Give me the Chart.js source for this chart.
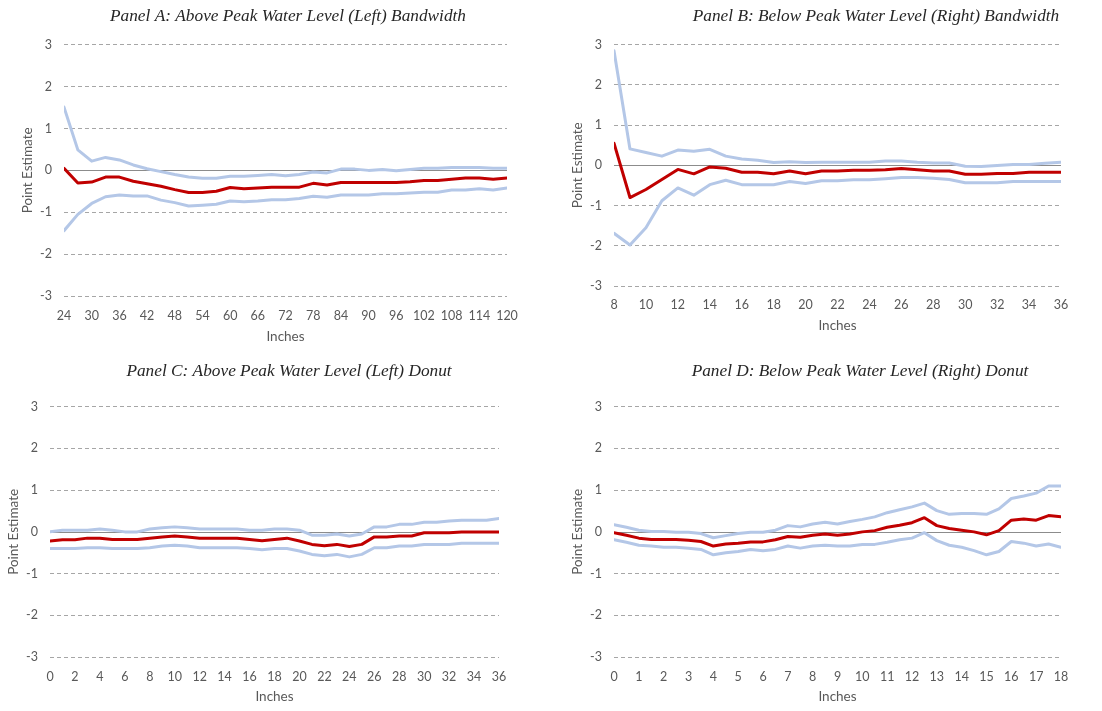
<!DOCTYPE html>
<html>
<head>
<meta charset="utf-8">
<script src="https://cdn.jsdelivr.net/npm/chart.js@4.4.1/dist/chart.umd.min.js"></script>
<style>
  html, body { margin: 0; padding: 0; background: #ffffff; width: 1102px; height: 711px; overflow: hidden; }
  .panel { position: absolute; }
</style>
</head>
<body>
<div class="panel" style="left:0px;top:0px;width:556px;height:355px"><canvas id="chartA"></canvas></div>
<div class="panel" style="left:551px;top:0px;width:631px;height:355px"><canvas id="chartB"></canvas></div>
<div class="panel" style="left:0px;top:355px;width:572px;height:356px"><canvas id="chartC"></canvas></div>
<div class="panel" style="left:551px;top:355px;width:599px;height:356px"><canvas id="chartD"></canvas></div>
<script>
// Panel A: above peak water level (left), bandwidth
const inchesA = [24, 27, 30, 33, 36, 39, 42, 45, 48, 51, 54, 57, 60, 63, 66, 69, 72, 75, 78, 81, 84, 87, 90, 93, 96, 99, 102, 105, 108, 111, 114, 117, 120];
const estimateA = [0.05, -0.30, -0.28, -0.16, -0.16, -0.26, -0.32, -0.38, -0.46, -0.53, -0.53, -0.50, -0.41, -0.44, -0.42, -0.40, -0.40, -0.40, -0.31, -0.35, -0.29, -0.29, -0.29, -0.29, -0.29, -0.27, -0.24, -0.24, -0.21, -0.18, -0.18, -0.21, -0.18];
const upperA = [1.51, 0.49, 0.22, 0.31, 0.25, 0.13, 0.04, -0.03, -0.10, -0.16, -0.19, -0.19, -0.14, -0.14, -0.12, -0.10, -0.13, -0.10, -0.04, -0.06, 0.03, 0.03, 0.00, 0.02, -0.01, 0.02, 0.05, 0.05, 0.07, 0.07, 0.07, 0.05, 0.05];
const lowerA = [-1.44, -1.05, -0.79, -0.63, -0.59, -0.61, -0.61, -0.71, -0.77, -0.85, -0.83, -0.81, -0.73, -0.75, -0.73, -0.70, -0.70, -0.67, -0.62, -0.64, -0.59, -0.59, -0.59, -0.56, -0.56, -0.54, -0.52, -0.52, -0.47, -0.47, -0.44, -0.47, -0.42];

// Panel B: below peak water level (right), bandwidth
const inchesB = [8, 9, 10, 11, 12, 13, 14, 15, 16, 17, 18, 19, 20, 21, 22, 23, 24, 25, 26, 27, 28, 29, 30, 31, 32, 33, 34, 35, 36];
const estimateB = [0.55, -0.80, -0.60, -0.35, -0.10, -0.21, -0.04, -0.07, -0.17, -0.17, -0.21, -0.14, -0.21, -0.14, -0.14, -0.12, -0.12, -0.11, -0.08, -0.11, -0.14, -0.14, -0.22, -0.22, -0.20, -0.20, -0.17, -0.17, -0.17];
const upperB = [2.85, 0.41, 0.32, 0.23, 0.38, 0.35, 0.40, 0.23, 0.16, 0.13, 0.07, 0.09, 0.07, 0.08, 0.08, 0.08, 0.08, 0.11, 0.11, 0.08, 0.06, 0.06, -0.02, -0.03, 0.00, 0.02, 0.02, 0.05, 0.08];
const lowerB = [-1.69, -1.98, -1.55, -0.88, -0.56, -0.74, -0.48, -0.37, -0.48, -0.48, -0.48, -0.40, -0.45, -0.38, -0.38, -0.36, -0.36, -0.33, -0.30, -0.30, -0.32, -0.35, -0.43, -0.43, -0.43, -0.40, -0.40, -0.40, -0.40];

// Panel C: above peak water level (left), donut
const inchesC = [0, 1, 2, 3, 4, 5, 6, 7, 8, 9, 10, 11, 12, 13, 14, 15, 16, 17, 18, 19, 20, 21, 22, 23, 24, 25, 26, 27, 28, 29, 30, 31, 32, 33, 34, 35, 36];
const estimateC = [-0.22, -0.19, -0.19, -0.15, -0.15, -0.18, -0.18, -0.18, -0.15, -0.12, -0.10, -0.12, -0.15, -0.15, -0.15, -0.15, -0.18, -0.21, -0.18, -0.15, -0.22, -0.30, -0.33, -0.30, -0.35, -0.30, -0.12, -0.12, -0.10, -0.10, -0.02, -0.02, -0.02, 0.00, 0.00, 0.00, 0.00];
const upperC = [0.00, 0.04, 0.04, 0.04, 0.07, 0.04, 0.00, 0.00, 0.07, 0.10, 0.12, 0.10, 0.07, 0.07, 0.07, 0.07, 0.04, 0.04, 0.07, 0.07, 0.04, -0.08, -0.08, -0.05, -0.10, -0.05, 0.12, 0.12, 0.18, 0.18, 0.23, 0.23, 0.26, 0.28, 0.28, 0.28, 0.32];
const lowerC = [-0.40, -0.40, -0.40, -0.38, -0.38, -0.40, -0.40, -0.40, -0.38, -0.34, -0.32, -0.34, -0.38, -0.38, -0.38, -0.38, -0.40, -0.43, -0.40, -0.40, -0.46, -0.54, -0.57, -0.54, -0.60, -0.54, -0.38, -0.38, -0.34, -0.34, -0.30, -0.30, -0.30, -0.27, -0.27, -0.27, -0.27];

// Panel D: below peak water level (right), donut
const inchesD = [0, 0.5, 1, 1.5, 2, 2.5, 3, 3.5, 4, 4.5, 5, 5.5, 6, 6.5, 7, 7.5, 8, 8.5, 9, 9.5, 10, 10.5, 11, 11.5, 12, 12.5, 13, 13.5, 14, 14.5, 15, 15.5, 16, 16.5, 17, 17.5, 18];
const estimateD = [-0.02, -0.08, -0.15, -0.18, -0.18, -0.18, -0.20, -0.23, -0.34, -0.29, -0.27, -0.24, -0.24, -0.19, -0.11, -0.13, -0.08, -0.05, -0.08, -0.05, 0.00, 0.03, 0.11, 0.16, 0.22, 0.34, 0.15, 0.08, 0.04, 0.00, -0.07, 0.03, 0.28, 0.31, 0.28, 0.39, 0.36];
const upperD = [0.17, 0.11, 0.04, 0.01, 0.01, -0.01, -0.01, -0.04, -0.14, -0.09, -0.04, -0.01, -0.01, 0.04, 0.15, 0.12, 0.19, 0.23, 0.19, 0.25, 0.30, 0.36, 0.46, 0.53, 0.60, 0.69, 0.51, 0.42, 0.44, 0.44, 0.42, 0.55, 0.80, 0.86, 0.93, 1.10, 1.10];
const lowerD = [-0.19, -0.25, -0.32, -0.34, -0.37, -0.37, -0.39, -0.42, -0.55, -0.50, -0.47, -0.42, -0.45, -0.42, -0.34, -0.39, -0.34, -0.32, -0.34, -0.34, -0.30, -0.30, -0.25, -0.19, -0.15, -0.02, -0.21, -0.32, -0.37, -0.45, -0.55, -0.47, -0.23, -0.27, -0.34, -0.29, -0.37];

const yTicks = [-3, -2, -1, 0, 1, 2, 3];

const RED = '#C00000';
const BLUE = '#B4C7E7';
const TICK_COLOR = '#595959';
const GRID_COLOR = '#A6A6A6';
const ZERO_COLOR = '#8C8C8C';
const SANS = 'Lato, "Liberation Sans", sans-serif';

// Solid reference line at zero, drawn beneath the series
const zeroLine = {
  id: 'zeroLine',
  beforeDatasetsDraw(chart) {
    const { ctx, chartArea } = chart;
    const y = Math.round(chart.scales.y.getPixelForValue(0)) + 0.5;
    ctx.save();
    ctx.strokeStyle = ZERO_COLOR;
    ctx.lineWidth = 1;
    ctx.beginPath();
    ctx.moveTo(chartArea.left, y);
    ctx.lineTo(chartArea.right, y);
    ctx.stroke();
    ctx.restore();
  }
};

function pairs(xs, ys) {
  return xs.map((x, i) => ({ x: x, y: ys[i] }));
}

function makePanel(id, p) {
  const series = (data, color) => ({
    data: pairs(p.inches, data),
    borderColor: color,
    borderWidth: 3,
    pointRadius: 0,
    tension: 0,
    borderJoinStyle: 'round',
    borderCapStyle: 'round',
    fill: false
  });
  return new Chart(document.getElementById(id), {
    type: 'line',
    data: {
      datasets: [
        series(p.estimate, RED),
        series(p.upper, BLUE),
        series(p.lower, BLUE)
      ]
    },
    plugins: [zeroLine],
    options: {
      responsive: true,
      maintainAspectRatio: false,
      animation: false,
      events: [],
      layout: { padding: { left: p.padLeft, right: 0, top: 0, bottom: p.padBottom } },
      plugins: {
        legend: { display: false },
        tooltip: { enabled: false },
        title: {
          display: true,
          text: p.title,
          color: '#262626',
          font: { family: '"Liberation Serif", "Times New Roman", serif', style: 'italic', weight: 'normal', size: 17.3, lineHeight: 1.2 },
          padding: p.titlePad
        }
      },
      scales: {
        x: {
          type: 'linear',
          min: p.xMin,
          max: p.xMax,
          afterFit(scale) { scale.height = p.xHeight; },
          afterBuildTicks(scale) {
            scale.ticks = p.xTicks.map(v => ({ value: v }));
          },
          grid: { display: false, drawTicks: false },
          border: { display: false },
          ticks: {
            color: TICK_COLOR,
            font: { family: SANS, size: 12.5, lineHeight: 1.2 },
            padding: p.xTickPad,
            maxRotation: 0,
            autoSkip: false
          },
          title: {
            display: true,
            text: 'Inches',
            color: TICK_COLOR,
            font: { family: SANS, size: 13.5, lineHeight: 1.2 },
            padding: 0
          }
        },
        y: {
          min: -3,
          max: 3,
          afterFit(scale) { scale.width = p.yWidth; },
          afterBuildTicks(scale) {
            scale.ticks = yTicks.map(v => ({ value: v }));
          },
          grid: {
            drawTicks: false,
            lineWidth: 1,
            color: ctx => (ctx.tick && ctx.tick.value === 0) ? 'rgba(0,0,0,0)' : GRID_COLOR
          },
          border: { display: false, dash: [4, 3] },
          ticks: {
            color: TICK_COLOR,
            font: { family: SANS, size: 12.5, lineHeight: 1.2 },
            padding: 12
          },
          title: {
            display: true,
            text: 'Point Estimate',
            color: TICK_COLOR,
            font: { family: SANS, size: 13.5, lineHeight: 1.2 },
            padding: 0
          }
        },
        // empty margin column on the right of the plot
        gutter: {
          type: 'linear',
          position: 'right',
          display: true,
          afterFit(scale) { scale.width = p.gutter; },
          grid: { display: false, drawTicks: false },
          border: { display: false },
          ticks: { display: false }
        }
      }
    }
  });
}

makePanel('chartA', {
  title: 'Panel A: Above Peak Water Level (Left) Bandwidth',
  inches: inchesA, estimate: estimateA, upper: upperA, lower: lowerA,
  xMin: 24, xMax: 120,
  xTicks: [24, 30, 36, 42, 48, 54, 60, 66, 72, 78, 84, 90, 96, 102, 108, 114, 120],
  padLeft: 20, padBottom: 10, gutter: 49,
  titlePad: { top: 6, bottom: 18 },
  yWidth: 44, xHeight: 49, xTickPad: 12
});

makePanel('chartB', {
  title: 'Panel B: Below Peak Water Level (Right) Bandwidth',
  inches: inchesB, estimate: estimateB, upper: upperB, lower: lowerB,
  xMin: 8, xMax: 36,
  xTicks: [8, 10, 12, 14, 16, 18, 20, 22, 24, 26, 28, 30, 32, 34, 36],
  padLeft: 19, padBottom: 21, gutter: 121,
  titlePad: { top: 6, bottom: 18 },
  yWidth: 44, xHeight: 48, xTickPad: 11
});

makePanel('chartC', {
  title: 'Panel C: Above Peak Water Level (Left) Donut',
  inches: inchesC, estimate: estimateC, upper: upperC, lower: lowerC,
  xMin: 0, xMax: 36,
  xTicks: [0, 2, 4, 6, 8, 10, 12, 14, 16, 18, 20, 22, 24, 26, 28, 30, 32, 34, 36],
  padLeft: 6, padBottom: 6, gutter: 73,
  titlePad: { top: 6, bottom: 25 },
  yWidth: 44, xHeight: 48, xTickPad: 12
});

makePanel('chartD', {
  title: 'Panel D: Below Peak Water Level (Right) Donut',
  inches: inchesD, estimate: estimateD, upper: upperD, lower: lowerD,
  xMin: 0, xMax: 18,
  xTicks: [0, 1, 2, 3, 4, 5, 6, 7, 8, 9, 10, 11, 12, 13, 14, 15, 16, 17, 18],
  padLeft: 19, padBottom: 6, gutter: 89,
  titlePad: { top: 6, bottom: 25 },
  yWidth: 44, xHeight: 48, xTickPad: 12
});
</script>
</body>
</html>
